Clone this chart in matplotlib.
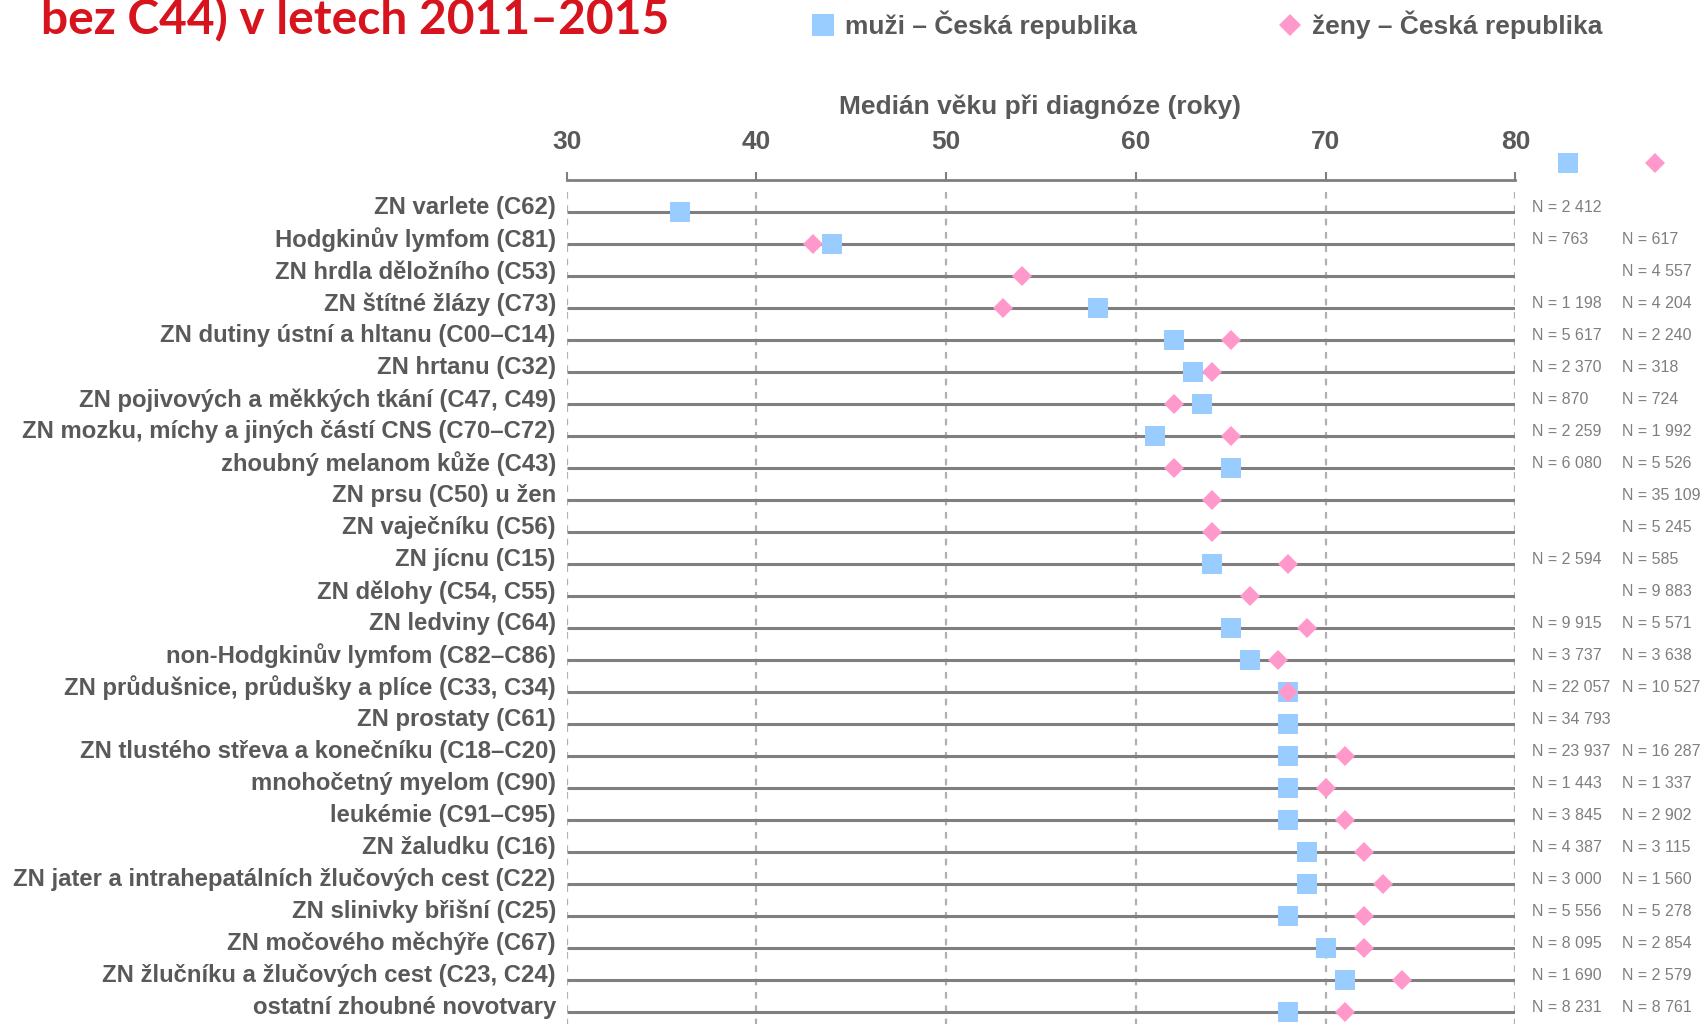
import numpy as np
import matplotlib.pyplot as plt
from matplotlib.lines import Line2D

# kategorie (shora dolu)
labels = [
    "ZN varlete (C62)",
    "Hodgkinův lymfom (C81)",
    "ZN hrdla děložního (C53)",
    "ZN štítné žlázy (C73)",
    "ZN dutiny ústní a hltanu (C00–C14)",
    "ZN hrtanu (C32)",
    "ZN pojivových a měkkých tkání (C47, C49)",
    "ZN mozku, míchy a jiných částí CNS (C70–C72)",
    "zhoubný melanom kůže (C43)",
    "ZN prsu (C50) u žen",
    "ZN vaječníku (C56)",
    "ZN jícnu (C15)",
    "ZN dělohy (C54, C55)",
    "ZN ledviny (C64)",
    "non-Hodgkinův lymfom (C82–C86)",
    "ZN průdušnice, průdušky a plíce (C33, C34)",
    "ZN prostaty (C61)",
    "ZN tlustého střeva a konečníku (C18–C20)",
    "mnohočetný myelom (C90)",
    "leukémie (C91–C95)",
    "ZN žaludku (C16)",
    "ZN jater a intrahepatálních žlučových cest (C22)",
    "ZN slinivky břišní (C25)",
    "ZN močového měchýře (C67)",
    "ZN žlučníku a žlučových cest (C23, C24)",
    "ostatní zhoubné novotvary",
]
nan = np.nan
median_men = [36, 44, nan, 58, 62, 63, 63.5, 61, 65, nan, nan, 64, nan,
              65, 66, 68, 68, 68, 68, 68, 69, 69, 68, 70, 71, 68]
median_women = [nan, 43, 54, 53, 65, 64, 62, 65, 62, 64, 64, 68, 66,
                69, 67.5, 68, nan, 71, 70, 71, 72, 73, 72, 72, 74, 71]
n_men = [2412, 763, None, 1198, 5617, 2370, 870, 2259, 6080, None, None, 2594, None,
         9915, 3737, 22057, 34793, 23937, 1443, 3845, 4387, 3000, 5556, 8095, 1690, 8231]
n_women = [None, 617, 4557, 4204, 2240, 318, 724, 1992, 5526, 35109, 5245, 585, 9883,
           5571, 3638, 10527, None, 16287, 1337, 2902, 3115, 1560, 5278, 2854, 2579, 8761]
xticks = [30, 40, 50, 60, 70, 80]

c_men = '#99CCFF'
c_women = '#FF99CC'
grey = '#595959'

def fmt_n(n):
    return "N = " + f"{n:,}".replace(",", " ")

fig = plt.figure(figsize=(17.02, 10.24), dpi=100, facecolor='white')
ax = fig.add_axes([566.6/1702, 0, (1515.4-566.6)/1702, 1-180/1024])
rows = np.arange(len(labels))

ax.set_xlim(30, 80)
ax.set_ylim(25.37, -1.01)

# svisle carkovane mrizky
ax.vlines(xticks, -0.65, 25.4, colors='#B0B0B0', linestyles=(0, (3, 3)), lw=1.6, zorder=1)
# vodorovne cary radku
ax.hlines(rows, 30, 80, colors='#7F7F7F', lw=2.2, zorder=2)

ax.plot(median_men, rows, 's', ms=15, color=c_men, mew=0, zorder=3)
ax.plot(median_women, rows, 'D', ms=9.7, color=c_women, mew=0, zorder=4)

for i, lab in enumerate(labels):
    ax.text(29.44, i - 0.14, lab, ha='right', va='center', fontsize=17.2,
            fontweight='bold', color=grey, family='Liberation Sans')
    if n_men[i] is not None:
        ax.text(80.88, i - 0.16, fmt_n(n_men[i]), ha='left', va='center',
                fontsize=11.5, color='#7F7F7F', family='Liberation Sans')
    if n_women[i] is not None:
        ax.text(85.62, i - 0.16, fmt_n(n_women[i]), ha='left', va='center',
                fontsize=11.5, color='#7F7F7F', family='Liberation Sans')

# osa nahore
for s in ['left', 'right', 'bottom']:
    ax.spines[s].set_visible(False)
ax.spines['top'].set_color('#7F7F7F')
ax.spines['top'].set_linewidth(2)
ax.xaxis.tick_top()
ax.set_xticks(xticks)
ax.tick_params(axis='x', direction='out', length=6, width=1.5, color='#7F7F7F',
               pad=13, labelsize=19, labelcolor=grey)
for t in ax.get_xticklabels():
    t.set_fontweight('bold')
    t.set_family('Liberation Sans')
ax.set_yticks([])

# znacky nad sloupci N
ax.plot([82.77], [-1.54], 's', ms=15, color=c_men, mew=0, clip_on=False)
ax.plot([87.36], [-1.54], 'D', ms=9.7, color=c_women, mew=0, clip_on=False)

fig.text(1040/1702, 1-107/1024, "Medián věku při diagnóze (roky)", ha='center', va='center',
         fontsize=19, fontweight='bold', color=grey, family='Liberation Sans')

# titulek
fig.text(41/1702, 1-20/1024, "bez C44) v letech 2011–2015", ha='left', va='center',
         fontsize=34.5, fontweight='bold', color='#D7141E', family='Lato')

# legenda nahore
fig.add_artist(Line2D([823/1702], [1-25/1024], marker='s', ms=16, color=c_men, mew=0,
                      transform=fig.transFigure))
fig.text(845/1702, 1-25/1024, "muži – Česká republika", ha='left', va='center',
         fontsize=19, fontweight='bold', color=grey, family='Liberation Sans')
fig.add_artist(Line2D([1290/1702], [1-25/1024], marker='D', ms=11, color=c_women, mew=0,
                      transform=fig.transFigure))
fig.text(1312/1702, 1-25/1024, "ženy – Česká republika", ha='left', va='center',
         fontsize=19, fontweight='bold', color=grey, family='Liberation Sans')

fig.savefig('out.png', dpi=100)
